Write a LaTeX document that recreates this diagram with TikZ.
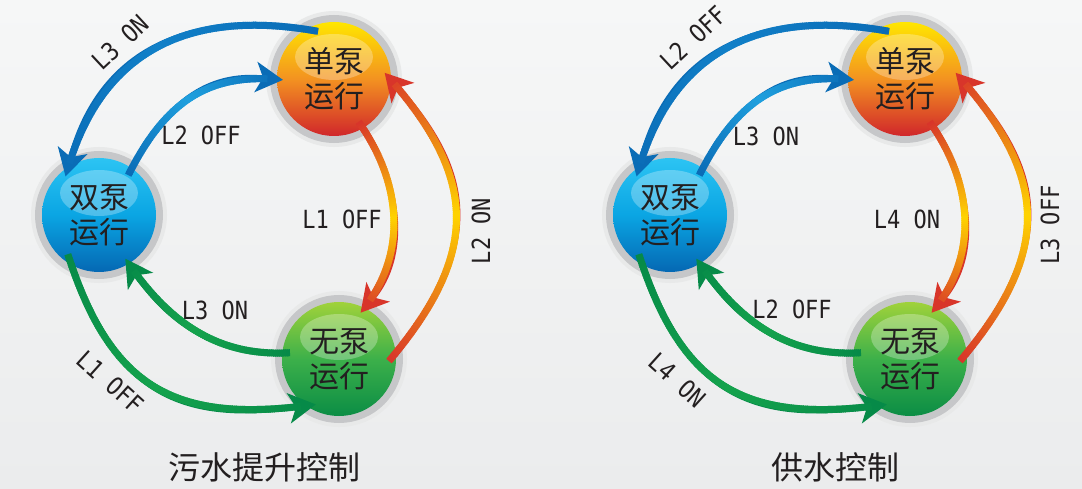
\documentclass[tikz,border=0pt]{standalone}
\usepackage{fontspec}
\setmainfont{Noto Sans CJK SC}
\newfontfamily\labelfont{DejaVu Sans Mono}[FakeStretch=0.88]
\usetikzlibrary{arrows.meta, decorations.markings}
\definecolor{BackTop}{HTML}{F6F7F7}
\definecolor{BackBottom}{HTML}{EBECED}
\definecolor{BezelGray}{HTML}{C6C7C9}
\definecolor{TextDark}{HTML}{231F20}
\definecolor{PumpYellow}{HTML}{FFE600}
\definecolor{PumpOrange}{HTML}{F39221}
\definecolor{PumpRed}{HTML}{D0262B}
\definecolor{PumpCyan}{HTML}{2CC4F3}
\definecolor{PumpSky}{HTML}{0AA5E3}
\definecolor{PumpBlue}{HTML}{0568B3}
\definecolor{PumpLime}{HTML}{A0D23A}
\definecolor{PumpLeaf}{HTML}{3CB04A}
\definecolor{PumpGreen}{HTML}{0B8D45}
\definecolor{FlowBlue}{HTML}{0A6CB6}
\definecolor{FlowBlueMid}{HTML}{1180C8}
\definecolor{FlowSky}{HTML}{1FA0DE}
\definecolor{FlowGreen}{HTML}{068A48}
\definecolor{FlowLeaf}{HTML}{15A34D}
\definecolor{FlowRed}{HTML}{D8352A}
\definecolor{FlowGold}{HTML}{FFD400}
\tikzset{
  ballbase/.style={circle, minimum size=57pt, inner sep=0pt, outer sep=-3pt, align=center,
    font=\fontsize{15pt}{17.5pt}\selectfont, text=TextDark,
    preaction={draw=BezelGray!40, line width=11pt},
    preaction={draw=BezelGray, line width=7pt},
    path picture={\fill[white, opacity=0.28] ([yshift=11pt]path picture bounding box.center) ellipse (19.5pt and 11.5pt);}},
  singleball/.style={ballbase, top color=PumpYellow, bottom color=PumpRed, middle color=PumpOrange},
  dualball/.style={ballbase, top color=PumpCyan, bottom color=PumpBlue, middle color=PumpSky},
  idleball/.style={ballbase, top color=PumpLime, bottom color=PumpGreen, middle color=PumpLeaf},
  flow/.style 2 args={line width=2.4pt, draw=#1, -{Stealth[length=13.5pt, width=15pt, inset=3.5pt]},
    postaction={decorate, decoration={markings,
      mark=between positions 0 and -8pt step 1pt with {
        \pgfmathtruncatemacro\flowmix{100*(1-abs(2*(\pgfkeysvalueof{/pgf/decoration/mark info/distance from start})/(\pgfdecoratedpathlength)-1))}
        \fill[#2!\flowmix!#1] (-0.8pt,-1.75pt) rectangle (0.8pt,1.75pt);
      }}}},
  flowlabel/.style={font=\labelfont\fontsize{12.5pt}{14pt}\selectfont, text=TextDark, inner sep=1pt},
  caption/.style={font=\fontsize{16pt}{18pt}\selectfont, text=TextDark}
}
\begin{document}
\begin{tikzpicture}[x=0.5pt, y=0.5pt]
  \useasboundingbox (0,0) rectangle (1082,488);
  \shade[top color=BackTop, bottom color=BackBottom] (0,0) rectangle (1082,488);

  % sewage lifting
  \node[singleball] (single) at (334,409) {单泵\\运行};
  \node[dualball] (dual) at (99,273) {双泵\\运行};
  \node[idleball] (idle) at (339,129) {无泵\\运行};

  \draw[flow={FlowBlue}{FlowBlueMid}] (single.110) to[out=170, in=75, looseness=1.15] (dual.131);
  \draw[flow={FlowBlue}{FlowSky}] (dual.54) to[out=63, in=174, looseness=1.1] (single.181);
  \draw[flow={FlowRed}{FlowGold}] (single.-60) to[out=-55, in=50] (idle.65);
  \draw[flow={FlowRed}{FlowGold}] (idle.-1) to[out=50, in=-48, looseness=1.25] (single.7);
  \draw[flow={FlowGreen}{FlowLeaf}] (idle.173) to[out=183, in=-56] (dual.-59);
  \draw[flow={FlowGreen}{FlowLeaf}] (dual.-127) to[out=-72, in=188, looseness=1.25] (idle.-117);

  \node[flowlabel, rotate=43] (l3on) at (120,446) {L3 ON};
  \node[flowlabel] (l2off) at (201,353) {L2 OFF};
  \node[flowlabel] (l1off) at (342,269) {L1 OFF};
  \node[flowlabel, rotate=90] (l2on) at (481,257) {L2 ON};
  \node[flowlabel] (l3onb) at (215,178) {L3 ON};
  \node[flowlabel, rotate=-42] (l1offb) at (110,106) {L1 OFF};
  \node[caption] (sewage) at (264,21) {污水提升控制};

  % water supply
  \begin{scope}[xshift=285.5pt]
    \node[singleball] (single2) at (334,409) {单泵\\运行};
    \node[dualball] (dual2) at (99,273) {双泵\\运行};
    \node[idleball] (idle2) at (339,129) {无泵\\运行};

    \draw[flow={FlowBlue}{FlowBlueMid}] (single2.110) to[out=170, in=75, looseness=1.15] (dual2.131);
    \draw[flow={FlowBlue}{FlowSky}] (dual2.54) to[out=63, in=174, looseness=1.1] (single2.181);
    \draw[flow={FlowRed}{FlowGold}] (single2.-60) to[out=-55, in=50] (idle2.65);
    \draw[flow={FlowRed}{FlowGold}] (idle2.-1) to[out=50, in=-48, looseness=1.25] (single2.7);
    \draw[flow={FlowGreen}{FlowLeaf}] (idle2.173) to[out=183, in=-56] (dual2.-59);
    \draw[flow={FlowGreen}{FlowLeaf}] (dual2.-127) to[out=-72, in=188, looseness=1.25] (idle2.-117);

    \node[flowlabel, rotate=43] (l2offs) at (122,450) {L2 OFF};
    \node[flowlabel] (l3ons) at (195,352) {L3 ON};
    \node[flowlabel] (l4on) at (336,269) {L4 ON};
    \node[flowlabel, rotate=90] (l3off) at (479,263) {L3 OFF};
    \node[flowlabel] (l2offb) at (221,179) {L2 OFF};
    \node[flowlabel, rotate=-42] (l4onb) at (106,108) {L4 ON};
    \node[caption] (supply) at (264,21) {供水控制};
  \end{scope}
\end{tikzpicture}
\end{document}
